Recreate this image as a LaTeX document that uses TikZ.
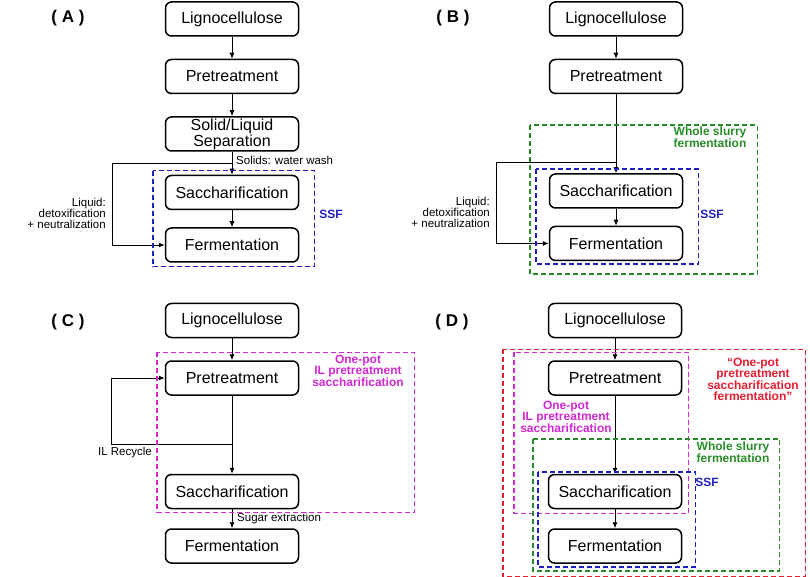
\documentclass[tikz,border=0pt]{standalone}
\usepackage{fontspec}
\setmainfont{Liberation Sans}
\usetikzlibrary{positioning,arrows.meta,calc}
\definecolor{ssfblue}{RGB}{30,30,200}
\definecolor{slurrygreen}{RGB}{40,140,40}
\definecolor{potmag}{RGB}{210,40,210}
\definecolor{potred}{RGB}{230,30,50}
\tikzset{
  main/.style={rectangle, rounded corners=6pt, draw=black, line width=1.5pt, minimum width=133pt, minimum height=34pt, inner sep=1pt, align=center, font=\fontsize{16}{14.5}\selectfont},
  connect/.style={-{Latex[length=6pt,width=5pt]}, line width=0.9pt},
  frame/.style={dash pattern=on 5pt off 3pt, line width=1.5pt},
  note/.style={font=\fontsize{11.5}{11}\selectfont, inner sep=0pt},
  tag/.style={font=\fontsize{12}{11}\selectfont\bfseries, align=center, inner sep=0pt},
  panel/.style={font=\fontsize{17}{20}\selectfont\bfseries}
}

\begin{document}
\begin{tikzpicture}[x=1pt,y=1pt]
  \useasboundingbox (0,0) rectangle (810,576);

  % panel A
  \node[panel] (TagA) at (68,558) {( A )};
  \node[main] (LigA) at (232,557) {Lignocellulose};
  \node[main] (PreA) [below=22pt of LigA] {Pretreatment};
  \node[main] (SepA) [below=22pt of PreA] {Solid/Liquid\\Separation};
  \node[main] (SacA) [below=23pt of SepA] {Saccharification};
  \node[main] (FerA) [below=17pt of SacA] {Fermentation};
  \path (LigA) edge [connect] (PreA)
        (PreA) edge [connect] (SepA)
        (SepA) edge [connect] (SacA)
        (SacA) edge [connect] (FerA);
  \coordinate (BrA) at ($(SepA.south)!0.5!(SacA.north)$);
  \draw[connect] (BrA) -- ++(-120,0) |- (FerA.west);
  \node[note, anchor=west] (SolA) at ($(BrA)+(4,3)$) {Solids: water wash};
  \node[note, align=right, anchor=east] (LiqA) at ($(BrA)+(-126,-50)$) {Liquid:\\detoxification\\+ neutralization};
  \draw[frame, ssfblue] ($(SacA.north west)+(-12,4)$) rectangle ($(FerA.south east)+(15,-4)$);
  \node[tag, ssfblue] (SsfA) at (331,362) {SSF};

  % panel B
  \node[panel] (TagB) at (453,558) {( B )};
  \node[main] (LigB) at (616,557) {Lignocellulose};
  \node[main] (PreB) [below=22pt of LigB] {Pretreatment};
  \node[main] (SacB) [below=79pt of PreB] {Saccharification};
  \node[main] (FerB) [below=17pt of SacB] {Fermentation};
  \path (LigB) edge [connect] (PreB)
        (PreB) edge [connect] (SacB)
        (SacB) edge [connect] (FerB);
  \coordinate (BrB) at ($(SacB.north)+(0,11)$);
  \draw[connect] (BrB) -- ++(-120,0) |- (FerB.west);
  \node[note, align=right, anchor=east] (LiqB) at ($(BrB)+(-126,-50)$) {Liquid:\\detoxification\\+ neutralization};
  \draw[frame, slurrygreen] ($(SacB.north west)+(-19,48)$) rectangle ($(FerB.south east)+(74,-13)$);
  \draw[frame, ssfblue] ($(SacB.north west)+(-13,4)$) rectangle ($(FerB.south east)+(15,-3)$);
  \node[tag, slurrygreen] (WsfB) at (710,438.5) {Whole slurry\\fermentation};
  \node[tag, ssfblue] (SsfB) at (712,362) {SSF};

  % panel C
  \node[panel] (TagC) at (68,254) {( C )};
  \node[main] (LigC) at (232,255.5) {Lignocellulose};
  \node[main] (PreC) [below=22pt of LigC] {Pretreatment};
  \node[main] (SacC) [below=78pt of PreC] {Saccharification};
  \node[main] (FerC) [below=19pt of SacC] {Fermentation};
  \path (LigC) edge [connect] (PreC)
        (PreC) edge [connect] (SacC)
        (SacC) edge [connect] (FerC);
  \coordinate (BrC) at ($(SacC.north)+(0,29)$);
  \draw[connect] (BrC) -- ++(-121,0) |- (PreC.west);
  \node[note] (RecC) at (125,123) {IL Recycle};
  \node[note, anchor=west] (SugC) at ($(SacC.south)!0.5!(FerC.north)+(5,0)$) {Sugar extraction};
  \draw[frame, potmag] ($(PreC.north west)+(-8,8)$) rectangle ($(SacC.south east)+(115,-3)$);
  \node[tag, potmag] (PotC) at (358,205) {One-pot\\IL pretreatment\\saccharification};

  % panel D
  \node[panel] (TagD) at (452,254) {( D )};
  \node[main] (LigD) at (615,255.5) {Lignocellulose};
  \node[main] (PreD) [below=22pt of LigD] {Pretreatment};
  \node[main] (SacD) [below=78pt of PreD] {Saccharification};
  \node[main] (FerD) [below=19pt of SacD] {Fermentation};
  \path (LigD) edge [connect] (PreD)
        (PreD) edge [connect] (SacD)
        (SacD) edge [connect] (FerD);
  \draw[frame, potred] ($(PreD.north west)+(-45,11)$) rectangle ($(FerD.south east)+(123,-13)$);
  \draw[frame, potmag] ($(PreD.north west)+(-34,8)$) rectangle ($(SacD.south east)+(6,-4)$);
  \draw[frame, slurrygreen] ($(SacD.north west)+(-15,35)$) rectangle ($(FerD.south east)+(97,-7)$);
  \draw[frame, ssfblue] ($(SacD.north west)+(-10,2)$) rectangle ($(FerD.south east)+(13,-3)$);
  \node[tag, potred] (PotRD) at (753,197) {``One-pot\\pretreatment\\saccharification\\fermentation''};
  \node[tag, potmag] (PotMD) at (566,159) {One-pot\\IL pretreatment\\saccharification};
  \node[tag, slurrygreen] (WsfD) at (733,123.5) {Whole slurry\\fermentation};
  \node[tag, ssfblue] (SsfD) at (707,94) {SSF};
\end{tikzpicture}
\end{document}
